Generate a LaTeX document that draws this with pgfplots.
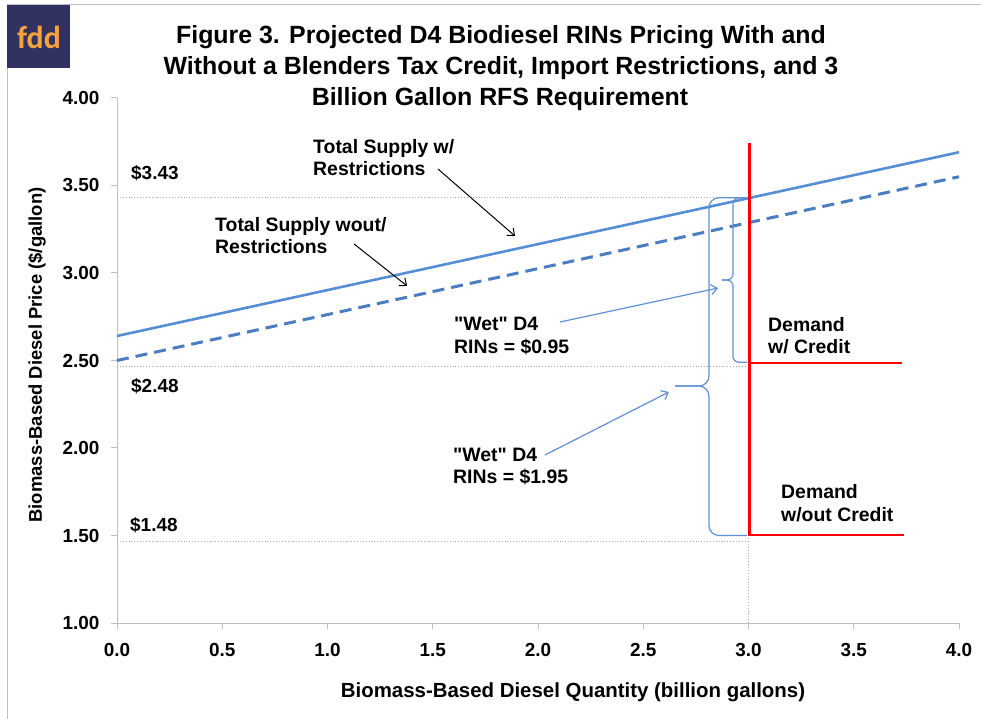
\documentclass[border=0pt]{standalone}
\usepackage{pgfplots}
\pgfplotsset{compat=1.18}
\usepackage{fontspec}
\setmainfont{Liberation Sans}[Ligatures=TeXOff]
\newfontfamily\logofont{Carlito}
\usetikzlibrary{arrows.meta}
\definecolor{logonavy}{RGB}{50,50,98}
\definecolor{logoorange}{RGB}{247,162,58}
\definecolor{supplyblue}{RGB}{85,142,213}
\definecolor{dashblue}{RGB}{74,126,192}
\definecolor{rinblue}{RGB}{95,145,212}
\definecolor{axisgray}{RGB}{191,191,191}
\definecolor{dotgray}{RGB}{165,165,165}
\newcommand\ann{\bfseries\fontsize{19.5}{22}\selectfont}
\begin{document}
\begin{tikzpicture}
\path[use as bounding box] (0bp,0bp) rectangle (981bp,719bp);
\draw[axisgray, line width=1bp] (7bp,-20bp) rectangle (1000bp,714bp);
\fill[logonavy] (7bp,651bp) rectangle (70bp,714bp);
\node[text=logoorange, font=\logofont\bfseries\fontsize{32}{32}\selectfont] at (39bp,682bp) {fdd};

\begin{axis}[
  at={(117bp,96bp)}, anchor=south west,
  width=842bp, height=525bp, scale only axis,
  xmin=0, xmax=4, ymin=1, ymax=4,
  axis x line*=bottom, axis y line*=left,
  axis line style={-, draw=axisgray, line width=1bp},
  every outer x axis line/.append style={-},
  every outer y axis line/.append style={-},
  xtick={0,0.5,1,1.5,2,2.5,3,3.5,4},
  ytick={1,1.5,2,2.5,3,3.5,4},
  tick align=outside,
  major tick length=6bp,
  tick style={draw=axisgray, line width=1bp},
  tick label style={font=\bfseries\fontsize{19}{19}\selectfont},
  /pgf/number format/assume math mode=true,
  x tick label style={/pgf/number format/fixed, /pgf/number format/fixed zerofill, /pgf/number format/precision=1, yshift=-11bp},
  y tick label style={/pgf/number format/fixed, /pgf/number format/fixed zerofill, /pgf/number format/precision=2, xshift=-8bp},
  clip=false,
]
% reference dotted lines
\addplot[dotgray, dotted, line width=0.9bp] coordinates {(0,3.43) (3,3.43)};
\addplot[dotgray, dotted, line width=0.9bp] coordinates {(0,2.465) (3,2.465)};
\addplot[dotgray, dotted, line width=0.9bp] coordinates {(0,1.465) (3,1.465)};
\addplot[dotgray, dotted, line width=0.9bp] coordinates {(3,1.0) (3,3.43)};
% supply curves
\addplot[supplyblue, line width=2.6bp] coordinates {(0,2.64) (4,3.69)};
\addplot[dashblue, line width=3bp, dash pattern=on 12bp off 7bp] coordinates {(0,2.50) (4,3.55)};
% demand
\addplot[red, line width=2.6bp, line join=miter] coordinates {(3.005,3.743) (3.005,1.503) (3.74,1.503)};
\addplot[red, line width=2.6bp] coordinates {(3.005,2.486) (3.73,2.486)};
% braces
\draw[rinblue, line width=1.2bp, rounded corners=6bp] (axis cs:2.995,2.49) -- (axis cs:2.926,2.49) -- (axis cs:2.926,2.96) -- (axis cs:2.874,2.96);
\draw[rinblue, line width=1.2bp, rounded corners=6bp] (axis cs:2.874,2.96) -- (axis cs:2.926,2.96) -- (axis cs:2.926,3.43) -- (axis cs:2.995,3.43);
\draw[rinblue, line width=1.2bp, rounded corners=10bp] (axis cs:2.995,1.50) -- (axis cs:2.812,1.50) -- (axis cs:2.812,2.354) -- (axis cs:2.651,2.354);
\draw[rinblue, line width=1.2bp, rounded corners=10bp] (axis cs:2.651,2.354) -- (axis cs:2.812,2.354) -- (axis cs:2.812,3.43) -- (axis cs:2.995,3.43);
% arrows
\draw[black, line width=1bp, -{Straight Barb[length=6bp,width=10bp]}] (axis cs:1.525,3.594) -- (axis cs:1.891,3.211);
\draw[black, line width=1bp, -{Straight Barb[length=6bp,width=10bp]}] (axis cs:1.126,3.166) -- (axis cs:1.378,2.926);
\draw[rinblue, line width=1.2bp, -{Straight Barb[length=6bp,width=10bp]}] (axis cs:2.105,2.72) -- (axis cs:2.855,2.914);
\draw[rinblue, line width=1.2bp, -{Straight Barb[length=6bp,width=10bp]}] (axis cs:2.033,1.96) -- (axis cs:2.622,2.32);
\end{axis}

% title
\begin{scope}[every node/.style={font=\bfseries\fontsize{25}{31}\selectfont, anchor=base, inner sep=0}]
\node at (501bp,675bp) {Figure 3. Projected D4 Biodiesel RINs Pricing With and};
\node at (501bp,644bp) {Without a Blenders Tax Credit, Import Restrictions, and 3};
\node at (500bp,613bp) {Billion Gallon RFS Requirement};
\end{scope}

% axis labels
\node[font=\bfseries\fontsize{18.5}{20}\selectfont, rotate=90, inner sep=0] at (37bp,364bp) {Biomass-Based Diesel Price (\$/gallon)};
\node[font=\bfseries\fontsize{20.5}{22}\selectfont, anchor=base, inner sep=0] at (573bp,22bp) {Biomass-Based Diesel Quantity (billion gallons)};

% annotations
\begin{scope}[every node/.style={font=\ann, anchor=base west, inner sep=0}]
\node at (313bp,565bp) {Total Supply w/};
\node at (313bp,543bp) {Restrictions};
\node at (215bp,487bp) {Total Supply wout/};
\node at (215bp,465bp) {Restrictions};
\node at (454bp,388bp) {"Wet" D4};
\node at (454bp,365bp) {RINs = \$0.95};
\node at (453bp,257bp) {"Wet" D4};
\node at (453bp,235bp) {RINs = \$1.95};
\node at (768bp,387bp) {Demand};
\node at (768bp,365bp) {w/ Credit};
\node at (781bp,220bp) {Demand};
\node at (781bp,197bp) {w/out Credit};
\node[font=\bfseries\fontsize{19}{20}\selectfont] at (131bp,539bp) {\$3.43};
\node[font=\bfseries\fontsize{19}{20}\selectfont] at (131bp,326bp) {\$2.48};
\node[font=\bfseries\fontsize{19}{20}\selectfont] at (130bp,187bp) {\$1.48};
\end{scope}
\end{tikzpicture}
\end{document}
